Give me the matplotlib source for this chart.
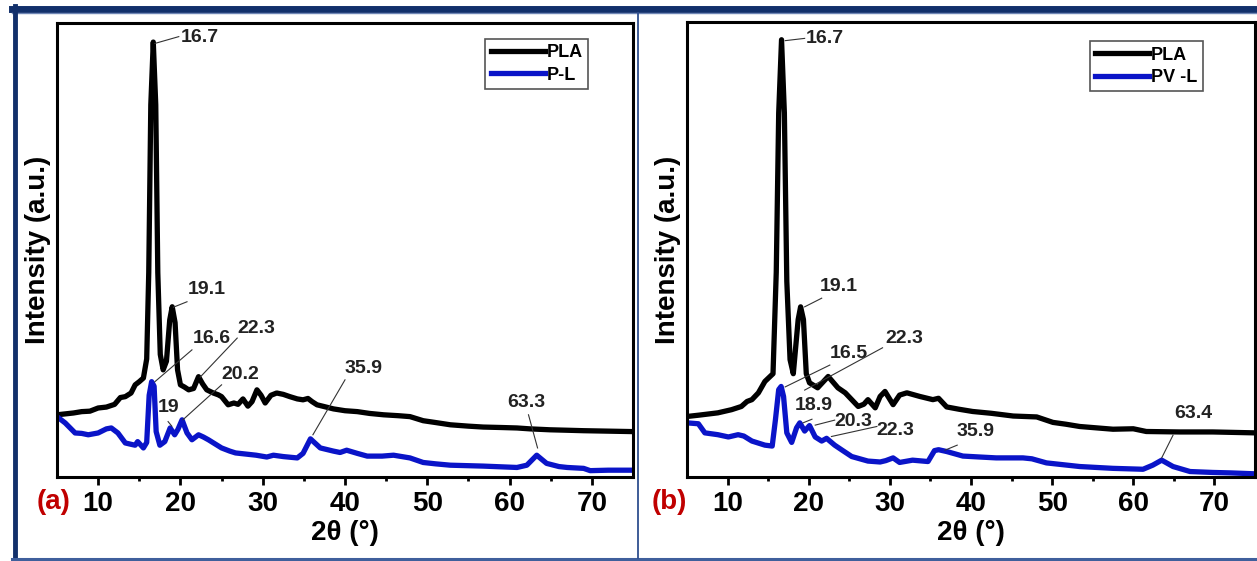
import numpy as np
import matplotlib
matplotlib.use("Agg")
import matplotlib.pyplot as plt
from matplotlib.lines import Line2D

plt.rcParams['font.family'] = ['Liberation Sans', 'DejaVu Sans']

# 2theta (deg), intensity (a.u., 0-100 of the plot height)
pla_a = np.array([
    [5, 13.7], [6, 13.9], [7, 14.1], [8, 14.4], [9, 14.5], [10, 15.2], [11, 15.4], [12, 16.0],
    [12.7, 17.5], [13.3, 17.7], [14, 18.5], [14.5, 20.3], [15, 21.0], [15.5, 21.8], [15.9, 26],
    [16.15, 45], [16.4, 82], [16.7, 95.8], [17.0, 82], [17.25, 45], [17.55, 27], [17.9, 23.6],
    [18.3, 25.5], [18.7, 34.6], [19.0, 37.5], [19.35, 34], [19.65, 23.6], [20.0, 20.3], [20.5, 19.8],
    [21.0, 19.2], [21.6, 19.5], [22.2, 22.1], [22.7, 20.5], [23.2, 19.2], [24.0, 18.5], [24.6, 18.1],
    [25.0, 17.7], [25.8, 15.9], [26.5, 16.3], [27.0, 16.0], [27.6, 17.2], [28.2, 15.6], [28.7, 16.6],
    [29.3, 19.2], [29.8, 18.0], [30.3, 16.3], [31.0, 18.0], [31.7, 18.5], [32.5, 18.2], [33.3, 17.7],
    [34.2, 17.2], [34.9, 17.0], [35.5, 17.3], [36.0, 16.6], [36.6, 15.9], [37.5, 15.5], [38.6, 15.0],
    [40.0, 14.6], [41.5, 14.4], [43.0, 14.0], [44.7, 13.7], [46.5, 13.5], [47.9, 13.3], [49.5, 12.4],
    [51.0, 12.0], [52.8, 11.5], [55.0, 11.2], [56.8, 11.0], [59.0, 10.9], [60.9, 10.8], [62.5, 10.6],
    [64.9, 10.4], [67.0, 10.3], [69.0, 10.2], [72.0, 10.1], [75.0, 10.0]])

pl = np.array([
    [5, 13.3], [6, 11.9], [7.2, 9.7], [8, 9.6], [8.8, 9.3], [10, 9.7], [11, 10.6], [11.6, 10.8],
    [12.4, 9.7], [13.3, 7.5], [14, 7.2], [14.5, 7.0], [14.8, 7.8], [15.1, 7.2], [15.5, 6.4],
    [15.9, 7.6], [16.2, 18], [16.5, 21], [16.8, 20], [17.05, 10], [17.5, 7.0], [18.1, 7.8],
    [18.75, 10.8], [19.3, 9.3], [19.7, 10.5], [20.2, 12.6], [20.8, 9.7], [21.4, 8.2], [22.2, 9.3],
    [22.8, 8.8], [23.4, 8.2], [24.2, 7.3], [25, 6.4], [26, 5.7], [26.7, 5.3], [28.2, 5.0],
    [29.2, 4.8], [30.5, 4.4], [31.3, 4.8], [32.5, 4.5], [34.2, 4.2], [34.9, 5.2], [35.8, 8.4],
    [37, 6.4], [38.6, 5.7], [39.4, 5.4], [40.2, 5.9], [41.5, 5.2], [42.7, 4.6], [44.5, 4.6],
    [45.9, 4.8], [47.9, 4.2], [49.5, 3.2], [51, 2.9], [52.8, 2.6], [56.8, 2.4], [60.9, 2.1],
    [62.1, 2.6], [63.3, 4.8], [64.5, 3.0], [66, 2.3], [67, 2.1], [69, 1.9], [69.8, 1.4],
    [72, 1.5], [75, 1.5]])

pla_b = np.array([
    [5, 13.3], [6.5, 13.6], [8.8, 14.1], [10.5, 14.8], [11.7, 15.5], [12.4, 16.6], [13, 17.0],
    [13.8, 18.5], [14.6, 21], [15.6, 22.7], [16.0, 45], [16.3, 80], [16.65, 96.1], [17.0, 80],
    [17.3, 43], [17.7, 25.8], [18.1, 22.7], [18.7, 34.6], [19.0, 37.4], [19.35, 34.6], [19.7, 22.7],
    [20.1, 20.7], [21.1, 19.6], [22.4, 22.1], [23.6, 19.6], [24.5, 18.5], [25.3, 17.0], [26.1, 15.5],
    [26.8, 16.0], [27.3, 17.0], [28.2, 15.2], [28.8, 17.7], [29.4, 18.8], [30.4, 15.9], [31.2, 18.0],
    [32.1, 18.5], [33.7, 17.7], [35.3, 17.0], [36.0, 17.3], [37.0, 15.4], [38.5, 14.9], [40.2, 14.4],
    [42.5, 14.0], [45.2, 13.4], [48.1, 13.2], [50.1, 12.0], [51.7, 11.6], [53.4, 11.1], [57.5, 10.5],
    [60, 10.6], [61.6, 10.0], [65.7, 9.9], [69.8, 9.9], [75, 9.7]])

pvl = np.array([
    [5, 11.9], [6.4, 11.7], [7.2, 9.7], [8.8, 9.3], [10.1, 8.8], [11.3, 9.3], [12.0, 9.0], [13, 7.9],
    [14.6, 7.0], [15.5, 6.8], [15.9, 12.6], [16.3, 19.2], [16.6, 19.9], [16.9, 17.7], [17.3, 9.7],
    [17.9, 7.6], [18.5, 10.8], [18.9, 11.9], [19.5, 10.1], [20.1, 11.3], [20.8, 8.8], [21.6, 7.9],
    [22.2, 8.5], [23.2, 7.0], [24.2, 5.8], [25.3, 4.5], [27.3, 3.5], [28.8, 3.3], [29.5, 3.6],
    [30.4, 4.2], [31.2, 3.2], [32.8, 3.7], [34.7, 3.4], [35.5, 5.8], [36, 6.0], [37, 5.6], [39, 4.6],
    [41, 4.4], [43.1, 4.2], [46.4, 4.2], [47.5, 4.0], [49.3, 3.1], [53.4, 2.3], [57.5, 1.9],
    [61.2, 1.7], [62.4, 2.6], [63.5, 3.7], [64.9, 2.3], [67, 1.2], [69.8, 1.0], [72, 0.9], [75, 0.7]])

# peak labels: text, leader start, leader end, text position (left, centre)
peaks_a = [("16.7", (16.9, 95.5), (19.8, 97.0), (20.0, 96.7)),
           ("19.1", (19.15, 37.4), (20.8, 38.6), (20.9, 41.2)),
           ("16.6", (16.9, 21.0), (21.4, 28.0), (21.5, 30.6)),
           ("22.3", (22.4, 22.0), (26.9, 30.6), (26.9, 32.8)),
           ("20.2", (20.3, 12.6), (25.0, 20.3), (25.0, 22.5)),
           ("19", (18.5, 12.2), (18.95, 11.2), (17.3, 15.4)),
           ("35.9", (36.1, 9.3), (40.0, 21.4), (40.0, 24.0)),
           ("63.3", (62.3, 13.7), (63.4, 6.4), (59.7, 16.3))]
peaks_b = [("16.7", (17.1, 95.9), (19.5, 96.4), (19.6, 96.4)),
           ("19.1", (19.5, 37.4), (21.6, 39.3), (21.4, 41.8)),
           ("16.5", (17.1, 19.8), (22.6, 24.6), (22.6, 27.2)),
           ("22.3", (19.5, 19.1), (29.1, 28.4), (29.4, 30.5)),
           ("18.9", (19.3, 11.9), (20.4, 12.7), (18.3, 15.8)),
           ("20.3", (20.8, 11.4), (23.2, 12.5), (23.2, 12.2)),
           ("22.3", (22.8, 8.9), (28.4, 11.1), (28.4, 10.3)),
           ("35.9", (36.8, 5.9), (38.3, 7.0), (38.2, 10.0)),
           ("63.4", (63.5, 4.2), (64.9, 9.2), (65.1, 14.0))]

xticks = [10, 20, 30, 40, 50, 60, 70]
blue = '#0a14c8'
navy = '#12306b'

W, H = 1257, 561
fig = plt.figure(figsize=(12.57, 5.61), dpi=100)
fig.patch.set_facecolor('white')


def draw_panel(rect, pla, other, other_name, peaks, leg_anchor, tag, tag_x):
    ax = fig.add_axes(rect)
    ax.plot(pla[:, 0], pla[:, 1], color='black', lw=3.8, label='PLA', solid_joinstyle='round')
    ax.plot(other[:, 0], other[:, 1], color=blue, lw=3.8, label=other_name, solid_joinstyle='round')
    for txt, p0, p1, tp in peaks:
        ax.plot([p0[0], p1[0]], [p0[1], p1[1]], color='#333333', lw=0.8)
        ax.text(tp[0], tp[1], txt, fontsize=14, fontweight='bold', color='#222222',
                ha='left', va='center')
    ax.set_xlim(5, 75)
    ax.set_ylim(0, 100)
    ax.set_yticks([])
    ax.set_xticks(xticks)
    ax.set_xticklabels([str(t) for t in xticks], fontsize=20, fontweight='bold')
    ax.set_xticks(np.arange(15, 75, 10), minor=True)
    ax.tick_params(axis='x', which='major', length=6, width=2, pad=4, direction='out')
    ax.tick_params(axis='x', which='minor', length=3, width=2, direction='out')
    for s in ax.spines.values():
        s.set_linewidth(2.2)
    ax.set_ylabel('Intensity (a.u.)', fontsize=20, fontweight='bold', labelpad=4)
    ax.set_xlabel('2\u03b8 (\u00b0)', fontsize=20, fontweight='bold', labelpad=2)
    leg = ax.legend(loc='upper right', bbox_to_anchor=leg_anchor, borderaxespad=0,
                    prop={'size': 13, 'weight': 'bold'}, handlelength=3.0, handletextpad=0.1,
                    fancybox=False, framealpha=1, borderpad=0.3, labelspacing=0.3)
    leg.get_frame().set_edgecolor('#555555')
    leg.get_frame().set_linewidth(1.2)
    fig.text(tag_x / W, 1 - 502 / H, tag, fontsize=20, fontweight='bold', color='#c00000',
             ha='left', va='center')
    return ax


draw_panel([57 / W, 84 / H, 576 / W, 454 / H], pla_a, pl, 'P-L', peaks_a, (0.922, 0.965), '(a)', 37)
draw_panel([687 / W, 84 / H, 568 / W, 455 / H], pla_b, pvl, 'PV -L', peaks_b, (0.908, 0.958), '(b)', 652)


def fline(x0, y0, x1, y1, lw, color=navy):
    fig.add_artist(Line2D([x0 / W, x1 / W], [1 - y0 / H, 1 - y1 / H],
                          transform=fig.transFigure, color=color, lw=lw))


fline(12, 8.5, W, 8.5, 5)
fline(12, 13, W, 13, 1, '#6f86b5')
fline(15, 6, 15, 560, 3.5)
fline(12, 558.5, W, 558.5, 2.2, '#3f5f9c')
fline(638, 13, 638, 558, 1.3, '#2f4f8f')

fig.savefig('out.png', dpi=100)
